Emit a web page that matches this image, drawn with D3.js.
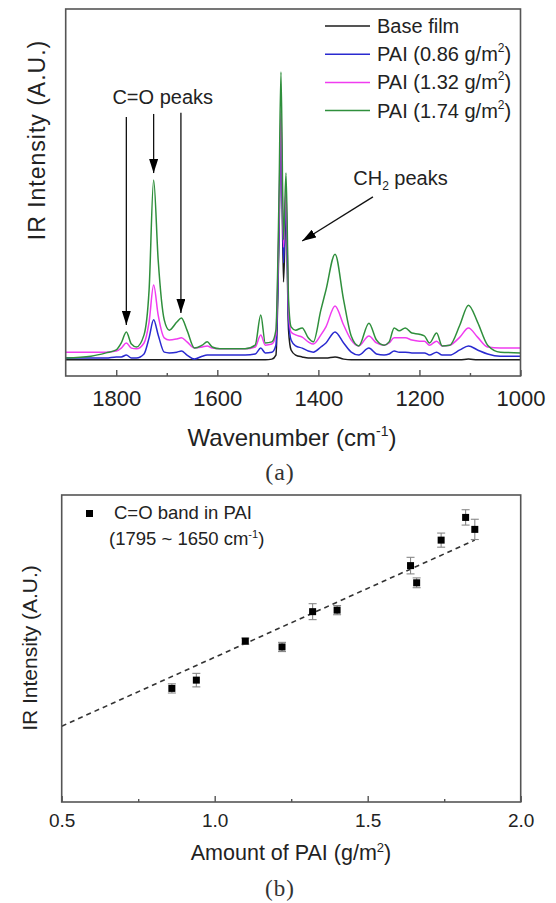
<!DOCTYPE html>
<html>
<head>
<meta charset="utf-8">
<script src="https://cdn.jsdelivr.net/npm/d3@7"></script>
<style>
  body { margin: 0; background: #fff; }
  svg { display: block; font-family: "Liberation Sans", Arial, Helvetica, sans-serif; }
</style>
</head>
<body>
<svg id="fig" width="556" height="903"></svg>
<script>
// ---------- (a) FTIR spectra ----------
const wavenumbers = [1900,1850,1820,1800,1790,1780,1770,1760,1745,1735,1726,1717,1705,1695,1680,1671,1660,1645,1630,1620,1610,1595,1570,1545,1525,1514,1505,1492,1484,1478,1474,1469,1464,1459,1454,1445,1432,1420,1410,1395,1385,1367,1350,1335,1320,1300,1285,1270,1260,1250,1240,1228,1215,1200,1190,1180,1166,1155,1140,1120,1103,1085,1065,1040,1000];

const baseFilm = [4.4,4.4,4.4,4.4,4.4,4.4,4.4,4.4,4.4,4.4,4.4,4.4,4.4,4.4,4.4,4.4,4.4,4.4,4.4,4.4,4.4,4.4,4.4,4.4,4.4,4.4,4.4,4.6,5.7,37.1,67.0,25.6,45.2,12.5,7.1,5.7,5.2,4.9,4.9,4.9,4.9,5.2,4.6,4.4,4.4,4.4,4.4,4.4,4.4,4.4,4.4,4.4,4.4,4.4,4.4,4.4,4.4,4.4,4.4,4.4,4.6,4.4,4.4,4.4,4.4];

const pai086 = [4.9,4.9,4.9,5.2,5.2,5.7,4.9,4.9,6.0,10.4,15.3,11.2,6.5,6.3,6.5,6.8,5.7,4.6,5.4,5.7,5.7,5.7,5.7,5.7,6.0,7.6,6.3,6.5,8.4,39.8,69.8,30.8,48.0,15.3,9.8,8.2,7.6,6.8,6.5,7.9,9.0,12.0,9.0,6.5,5.7,7.6,6.0,5.7,6.0,6.8,6.5,6.5,6.3,6.3,6.3,5.7,6.5,5.7,5.7,7.1,8.2,7.1,6.0,5.4,5.4];

const pai132 = [6.5,6.5,6.5,6.8,7.6,9.0,7.6,7.4,9.0,14.7,24.8,16.6,10.4,9.8,10.1,10.4,9.3,7.6,7.9,8.2,7.6,7.4,7.4,7.4,7.9,11.2,8.4,8.7,11.2,42.5,72.5,35.1,50.7,18.0,12.0,11.2,10.6,9.3,8.7,11.2,13.4,19.1,13.9,9.8,8.2,10.9,9.0,8.4,9.0,10.4,10.4,10.4,9.8,9.5,9.5,8.4,9.5,8.2,8.4,10.6,13.1,10.6,7.9,7.6,7.6];

const pai174 = [4.9,5.4,6.3,7.1,9.0,12.0,8.7,7.9,11.2,23.4,53.4,31.6,15.3,12.5,14.7,15.8,12.5,7.6,8.4,9.3,7.9,7.4,7.4,7.4,8.4,16.6,9.0,9.3,12.5,48.0,82.8,37.1,55.3,20.7,13.4,12.5,13.1,10.4,9.3,18.0,23.4,33.2,20.7,10.9,8.2,14.4,9.8,8.4,9.3,13.1,12.3,13.1,11.7,11.4,10.9,9.0,11.7,8.2,8.4,13.9,19.3,14.7,8.4,6.5,6.3];

const spectraSeries = [baseFilm, pai086, pai132, pai174];
const spectraColors = ["#1c1c1c", "#2a2ad0", "#f03cf0", "#2f8f3c"];
// legend labels: [text before superscript, superscript, text after]
const spectraLabels = [
  ["Base film", "", ""],
  ["PAI (0.86 g/m", "2", ")"],
  ["PAI (1.32 g/m", "2", ")"],
  ["PAI (1.74 g/m", "2", ")"]
];
const spectraMajorTicks = [1800, 1600, 1400, 1200, 1000];
const spectraMinorTicks = [1700, 1500, 1300, 1100];

// annotation arrows: [wavenumber, intensity] start -> end
const carbonylArrows = [
  [[1780, 70.6], [1780, 13.9]],
  [[1726, 71.4], [1726, 55.3]],
  [[1672, 71.7], [1672, 17.2]]
];
const methyleneArrow = [[1292, 48.8], [1432, 36.8]];

// ---------- (b) C=O band intensity vs PAI amount ----------
const paiAmount   = [0.86, 0.94, 1.10, 1.22, 1.32, 1.40, 1.64, 1.66, 1.74, 1.82, 1.85];
const coIntensity = [0.370, 0.397, 0.524, 0.505, 0.620, 0.625, 0.770, 0.714, 0.853, 0.927, 0.888];
const coError     = [0.015, 0.022, 0.010, 0.015, 0.026, 0.015, 0.027, 0.016, 0.023, 0.025, 0.033];
const fitAmount    = [0.5, 1.85];
const fitIntensity = [0.247, 0.853];
const amountMajorTicks = [0.5, 1.0, 1.5, 2.0];
const amountMinorTicks = [0.75, 1.25, 1.75];

const svg = d3.select("#fig");
const frameColor = "#555";

// ===== panel (a) =====
const xA = d3.scaleLinear().domain([1900, 1000]).range([65.7, 520.5]);
const yA = d3.scaleLinear().domain([0, 100]).range([376, 9]);

const defs = svg.append("defs");
defs.append("clipPath").attr("id", "clipA")
  .append("rect").attr("x", xA(1900)).attr("y", yA(100))
  .attr("width", xA(1000) - xA(1900)).attr("height", yA(0) - yA(100));
defs.append("marker")
  .attr("id", "head").attr("viewBox", "0 0 14 9")
  .attr("refX", 14).attr("refY", 4.5)
  .attr("markerWidth", 14).attr("markerHeight", 9)
  .attr("markerUnits", "userSpaceOnUse").attr("orient", "auto")
  .append("path").attr("d", "M0,0 L14,4.5 L0,9 Z").attr("fill", "#000");

const gA = svg.append("g");
const line = d3.line()
  .x((d, i) => xA(wavenumbers[i])).y(d => yA(d))
  .curve(d3.curveMonotoneX);
gA.append("g").attr("clip-path", "url(#clipA)")
  .selectAll("path").data(spectraSeries).join("path")
  .attr("d", line).attr("fill", "none")
  .attr("stroke", (d, i) => spectraColors[i])
  .attr("stroke-width", 1.5).attr("stroke-linejoin", "round");

// axis ticks (inward)
const axA = gA.append("g").attr("transform", `translate(0,${yA(0)})`)
  .call(d3.axisBottom(xA).tickValues(spectraMajorTicks).tickSize(-6).tickPadding(14).tickFormat(d3.format("d")));
axA.select(".domain").remove();
axA.selectAll("line").attr("stroke", frameColor).attr("stroke-width", 1.4);
axA.selectAll("text").attr("font-size", 22).attr("fill", "#222")
  .attr("font-family", "Liberation Sans, Arial, sans-serif").attr("dy", "0.71em");
const axAm = gA.append("g").attr("transform", `translate(0,${yA(0)})`)
  .call(d3.axisBottom(xA).tickValues(spectraMinorTicks).tickSize(-3).tickFormat(""));
axAm.select(".domain").remove();
axAm.selectAll("line").attr("stroke", frameColor).attr("stroke-width", 1.4);

gA.append("rect").attr("x", xA(1900)).attr("y", yA(100))
  .attr("width", xA(1000) - xA(1900)).attr("height", yA(0) - yA(100))
  .attr("fill", "none").attr("stroke", frameColor).attr("stroke-width", 1.6);

// axis titles
const xTitleA = gA.append("text").attr("x", 292).attr("y", 446)
  .attr("text-anchor", "middle").attr("font-size", 24).attr("fill", "#222");
xTitleA.append("tspan").text("Wavenumber (cm");
xTitleA.append("tspan").attr("font-size", 14).attr("dy", -10).text("-1");
xTitleA.append("tspan").attr("dy", 10).text(")");

gA.append("text").attr("transform", "translate(45,140) rotate(-90)")
  .attr("text-anchor", "middle").attr("font-size", 23).attr("fill", "#222")
  .attr("letter-spacing", 1)
  .text("IR Intensity (A.U.)");

gA.append("text").attr("x", 280).attr("y", 480)
  .attr("text-anchor", "middle").attr("font-size", 24).attr("letter-spacing", 1)
  .attr("font-family", "Liberation Serif, Times New Roman, serif").attr("fill", "#333")
  .text("(a)");

// legend
const legA = gA.append("g");
spectraLabels.forEach((lab, i) => {
  const yy = 26 + i * 28.2;
  legA.append("line").attr("x1", 325).attr("x2", 370).attr("y1", yy).attr("y2", yy)
    .attr("stroke", spectraColors[i]).attr("stroke-width", 1.5);
  const t = legA.append("text").attr("x", 377).attr("y", yy + 7)
    .attr("font-size", 20).attr("fill", "#222");
  t.append("tspan").text(lab[0]);
  if (lab[1]) {
    t.append("tspan").attr("font-size", 12).attr("dy", -9).text(lab[1]);
    t.append("tspan").attr("dy", 9).text(lab[2]);
  }
});

// annotations
const annA = gA.append("g");
carbonylArrows.concat([methyleneArrow]).forEach(a => {
  annA.append("line")
    .attr("x1", xA(a[0][0])).attr("y1", yA(a[0][1]))
    .attr("x2", xA(a[1][0])).attr("y2", yA(a[1][1]))
    .attr("stroke", "#111").attr("stroke-width", 1.3)
    .attr("marker-end", "url(#head)");
});
annA.append("text").attr("x", xA(1708)).attr("y", yA(76) + 7)
  .attr("text-anchor", "middle").attr("font-size", 20).attr("fill", "#222")
  .text("C=O peaks");
const ch2 = annA.append("text").attr("x", xA(1331)).attr("y", yA(54) + 7)
  .attr("font-size", 20).attr("fill", "#222");
ch2.append("tspan").text("CH");
ch2.append("tspan").attr("font-size", 12).attr("dy", 5).text("2");
ch2.append("tspan").attr("dy", -5).text(" peaks");

// ===== panel (b) =====
const xB = d3.scaleLinear().domain([0.5, 2.0]).range([61.7, 520.7]);
const yB = d3.scaleLinear().domain([0, 1]).range([802, 495]);
const gB = svg.append("g");

// fitted trend (dashed)
gB.append("path")
  .datum(fitAmount.map((x, i) => [x, fitIntensity[i]]))
  .attr("d", d3.line().x(d => xB(d[0])).y(d => yB(d[1])))
  .attr("fill", "none").attr("stroke", "#333").attr("stroke-width", 1.6)
  .attr("stroke-dasharray", "5,4");

// error bars
const pts = paiAmount.map((x, i) => ({ x, y: coIntensity[i], e: coError[i] }));
const eb = gB.append("g").attr("stroke", "#888").attr("stroke-width", 1.1);
eb.selectAll("line.v").data(pts).join("line").attr("class", "v")
  .attr("x1", d => xB(d.x)).attr("x2", d => xB(d.x))
  .attr("y1", d => yB(d.y + d.e)).attr("y2", d => yB(d.y - d.e));
eb.selectAll("line.t").data(pts).join("line").attr("class", "t")
  .attr("x1", d => xB(d.x) - 4).attr("x2", d => xB(d.x) + 4)
  .attr("y1", d => yB(d.y + d.e)).attr("y2", d => yB(d.y + d.e));
eb.selectAll("line.b").data(pts).join("line").attr("class", "b")
  .attr("x1", d => xB(d.x) - 4).attr("x2", d => xB(d.x) + 4)
  .attr("y1", d => yB(d.y - d.e)).attr("y2", d => yB(d.y - d.e));

gB.selectAll("rect.pt").data(pts).join("rect").attr("class", "pt")
  .attr("x", d => xB(d.x) - 3.5).attr("y", d => yB(d.y) - 3.5)
  .attr("width", 7).attr("height", 7).attr("fill", "#000");

const axB = gB.append("g").attr("transform", `translate(0,${yB(0)})`)
  .call(d3.axisBottom(xB).tickValues(amountMajorTicks).tickSize(-6).tickPadding(12).tickFormat(d3.format(".1f")));
axB.select(".domain").remove();
axB.selectAll("line").attr("stroke", frameColor).attr("stroke-width", 1.4);
axB.selectAll("text").attr("font-size", 19).attr("fill", "#222")
  .attr("font-family", "Liberation Sans, Arial, sans-serif").attr("dy", "0.71em");
const axBm = gB.append("g").attr("transform", `translate(0,${yB(0)})`)
  .call(d3.axisBottom(xB).tickValues(amountMinorTicks).tickSize(-3).tickFormat(""));
axBm.select(".domain").remove();
axBm.selectAll("line").attr("stroke", frameColor).attr("stroke-width", 1.4);

gB.append("rect").attr("x", xB(0.5)).attr("y", yB(1))
  .attr("width", xB(2.0) - xB(0.5)).attr("height", yB(0) - yB(1))
  .attr("fill", "none").attr("stroke", frameColor).attr("stroke-width", 1.6);

const xTitleB = gB.append("text").attr("x", 291).attr("y", 860)
  .attr("text-anchor", "middle").attr("font-size", 21.5).attr("fill", "#222");
xTitleB.append("tspan").text("Amount of PAI (g/m");
xTitleB.append("tspan").attr("font-size", 13).attr("dy", -8).text("2");
xTitleB.append("tspan").attr("dy", 8).text(")");

gB.append("text").attr("transform", "translate(37,648) rotate(-90)")
  .attr("text-anchor", "middle").attr("font-size", 21).attr("fill", "#222")
  .text("IR Intensity (A.U.)");

gB.append("text").attr("x", 280).attr("y", 896)
  .attr("text-anchor", "middle").attr("font-size", 23).attr("letter-spacing", 1)
  .attr("font-family", "Liberation Serif, Times New Roman, serif").attr("fill", "#333")
  .text("(b)");

// legend
gB.append("rect").attr("x", 86).attr("y", 510).attr("width", 7).attr("height", 7).attr("fill", "#000");
gB.append("text").attr("x", 114).attr("y", 519).attr("font-size", 18.5).attr("fill", "#222")
  .text("C=O band in PAI");
const leg2 = gB.append("text").attr("x", 109).attr("y", 545).attr("font-size", 18.5).attr("fill", "#222");
leg2.append("tspan").text("(1795 ~ 1650 cm");
leg2.append("tspan").attr("font-size", 11).attr("dy", -7).text("-1");
leg2.append("tspan").attr("dy", 7).text(")");
</script>
</body>
</html>
